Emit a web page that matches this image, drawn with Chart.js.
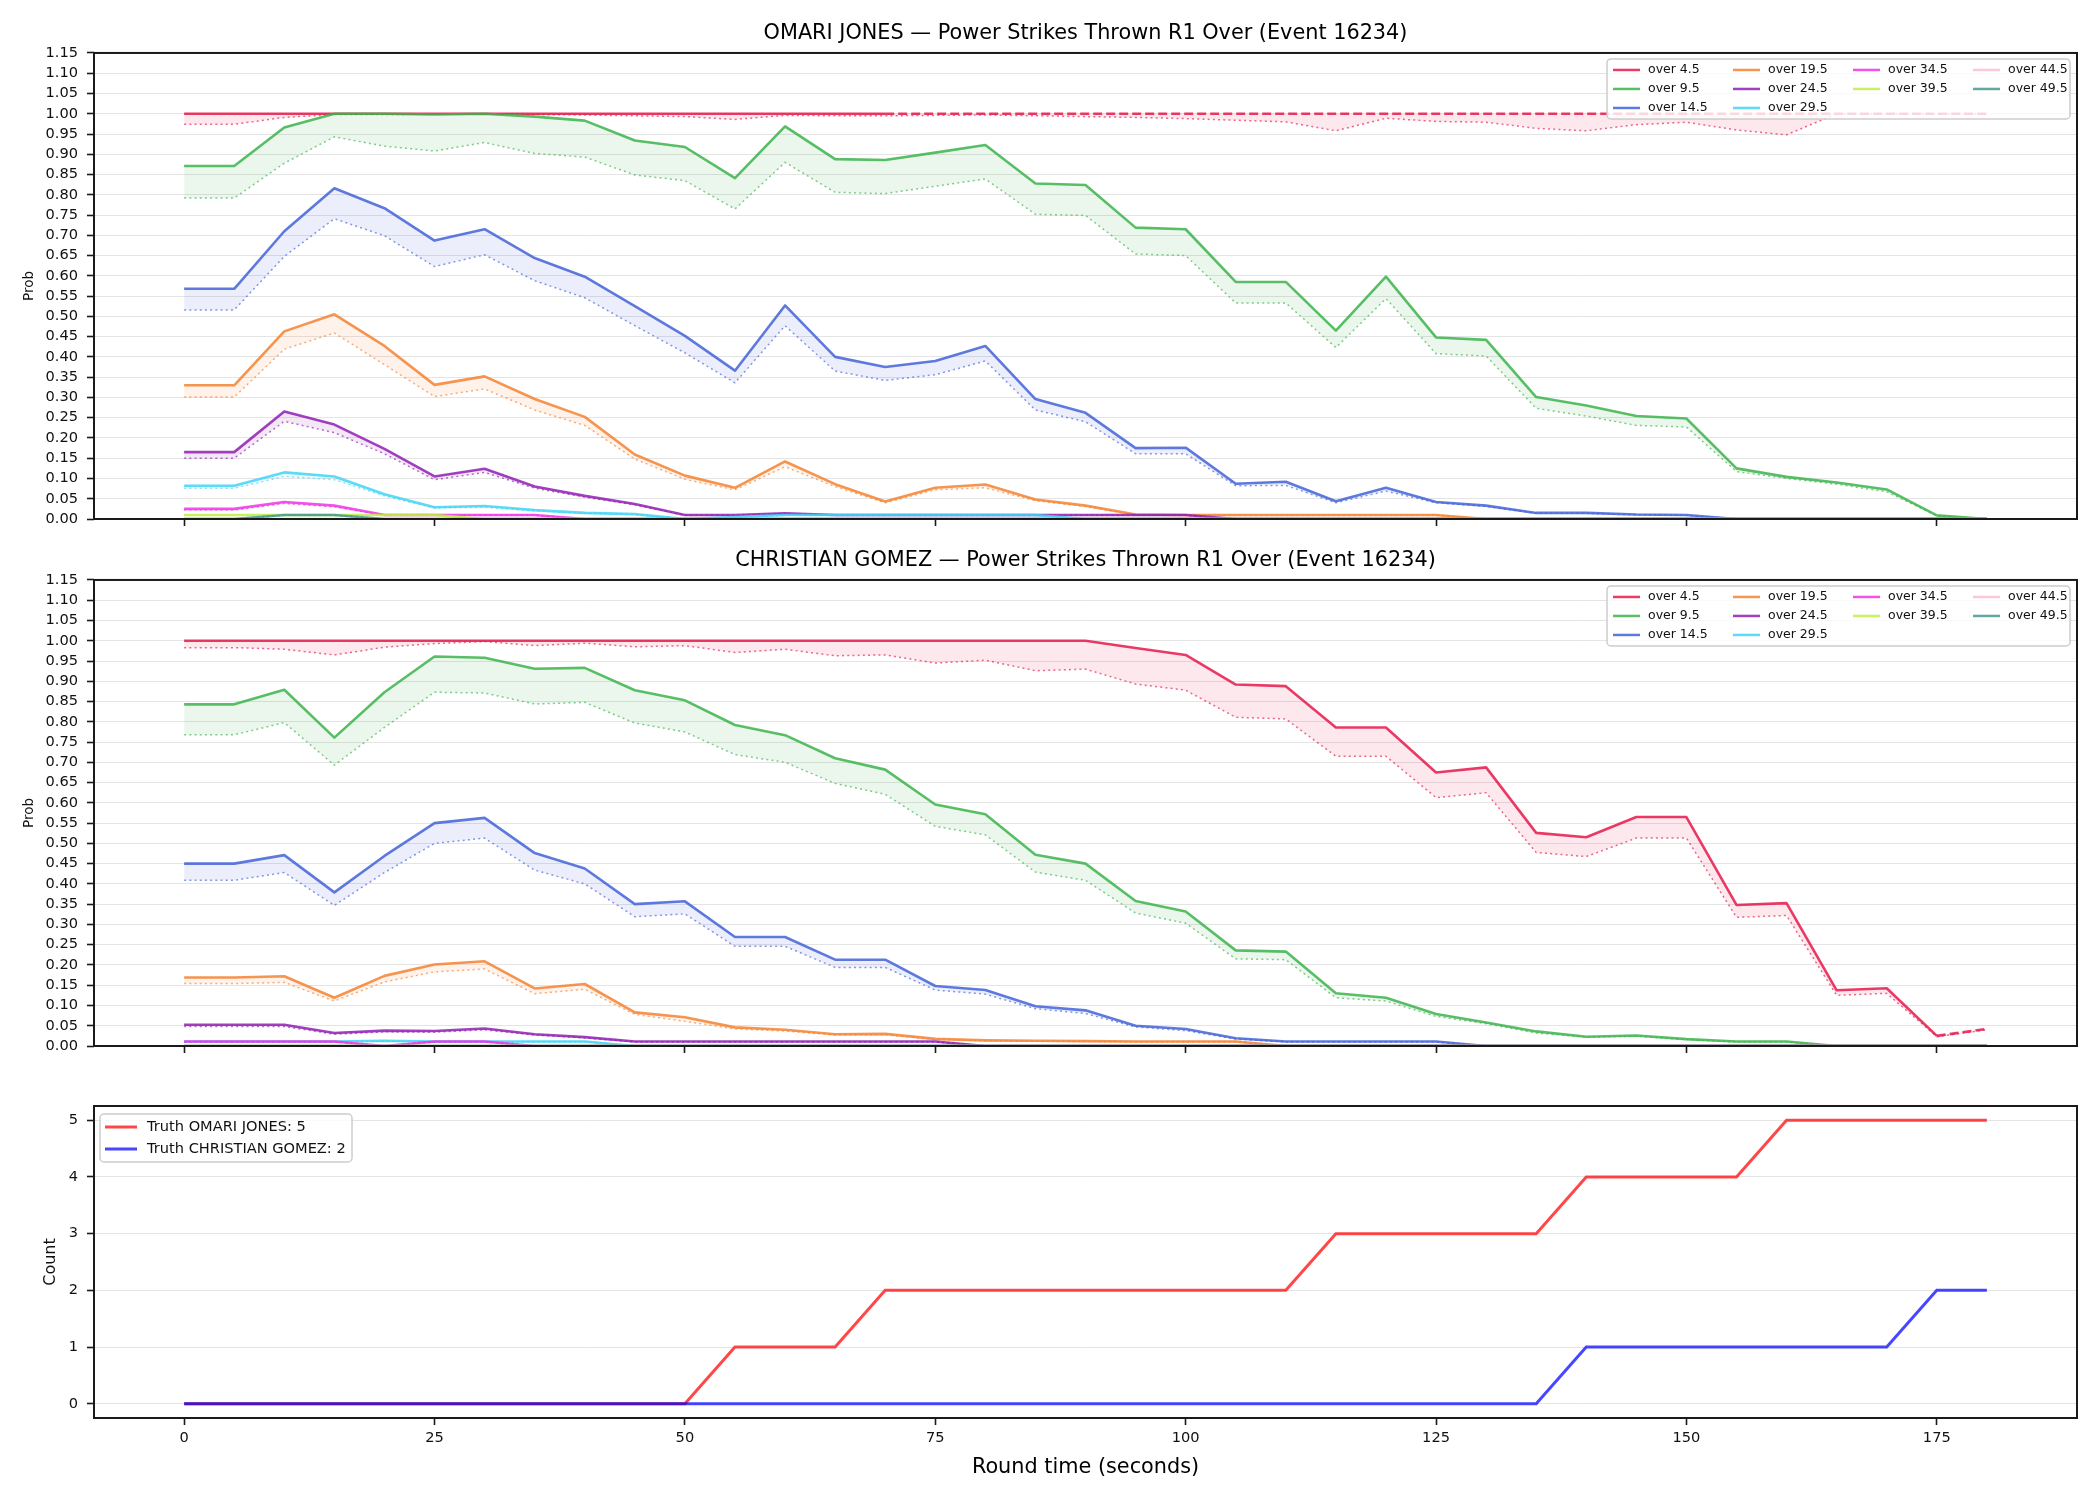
<!DOCTYPE html>
<html><head><meta charset="utf-8">
<script src="https://cdn.jsdelivr.net/npm/chart.js@4.4.1/dist/chart.umd.min.js"></script>
<style>
html,body{margin:0;padding:0;background:#fff;width:2100px;height:1500px;overflow:hidden;}
canvas{position:absolute;left:0;}
</style></head><body>
<canvas id="c1" width="2100" height="541" style="top:0px"></canvas>
<canvas id="c2" width="2100" height="541" style="top:527px"></canvas>
<canvas id="c3" width="2100" height="440" style="top:1060px"></canvas>
<script>
// ---------------- DATA ----------------
const TIMES = [0,5,10,15,20,25,30,35,40,45,50,55,60,65,70,75,80,85,90,95,100,105,110,115,120,125,130,135,140,145,150,155,160,165,170,175,180];
const LINE_LABELS = ['over 4.5','over 9.5','over 14.5','over 19.5','over 24.5','over 29.5','over 34.5','over 39.5','over 44.5','over 49.5'];
const PROB_TICKS = [0,0.05,0.10,0.15,0.20,0.25,0.30,0.35,0.40,0.45,0.50,0.55,0.60,0.65,0.70,0.75,0.80,0.85,0.90,0.95,1.00,1.05,1.10,1.15];
const COUNT_TICKS = [0,1,2,3,4,5];
const TIME_TICKS = [0,25,50,75,100,125,150,175];
const ALL_ZERO = [0,0,0,0,0,0,0,0,0,0,0,0,0,0,0,0,0,0,0,0,0,0,0,0,0,0,0,0,0,0,0,0,0,0,0,0,0];

const TITLE_OMARI = 'OMARI JONES — Power Strikes Thrown R1 Over (Event 16234)';
const TITLE_CHRISTIAN = 'CHRISTIAN GOMEZ — Power Strikes Thrown R1 Over (Event 16234)';

// OMARI JONES: model probability (solid) and lower band (dotted)
const OJ_HI_45 = [1,1,1,1,1,1,1,1,1,1,1,1,1,1,1,1,1,1,1,1,1,1,1,1,1,1,1,1,1,1,1,1,1,1,1,1,1];
const OJ_LO_45 = [0.974,0.974,0.991,0.998,0.998,0.999,0.999,0.998,0.997,0.995,0.993,0.986,0.996,0.995,0.995,0.996,0.997,0.995,0.993,0.991,0.988,0.984,0.980,0.958,0.989,0.981,0.979,0.964,0.958,0.973,0.979,0.960,0.948,1.0,1.0,1.0,1.0];
const OJ_HI_95 = [0.871,0.871,0.966,1.0,1.0,0.998,1.0,0.993,0.983,0.934,0.918,0.841,0.969,0.888,0.886,0.904,0.923,0.828,0.824,0.719,0.715,0.585,0.585,0.465,0.598,0.448,0.442,0.301,0.280,0.254,0.248,0.125,0.104,0.090,0.073,0.009,0.0];
const OJ_LO_95 = [0.792,0.792,0.878,0.943,0.920,0.908,0.929,0.902,0.893,0.849,0.835,0.765,0.880,0.806,0.803,0.821,0.839,0.752,0.749,0.654,0.650,0.533,0.533,0.423,0.544,0.408,0.402,0.273,0.254,0.231,0.227,0.117,0.100,0.086,0.067,0.008,0.0];
const OJ_HI_145 = [0.568,0.568,0.710,0.816,0.767,0.687,0.715,0.644,0.598,0.525,0.452,0.366,0.527,0.400,0.375,0.390,0.427,0.296,0.262,0.175,0.176,0.087,0.092,0.044,0.077,0.042,0.033,0.015,0.015,0.011,0.010,0,0,0,0,0,0];
const OJ_LO_145 = [0.516,0.516,0.648,0.741,0.699,0.623,0.652,0.588,0.546,0.477,0.410,0.336,0.477,0.365,0.342,0.356,0.390,0.269,0.240,0.161,0.161,0.082,0.083,0.040,0.069,0.040,0.031,0.014,0.014,0.010,0.009,0,0,0,0,0,0];
const OJ_HI_195 = [0.330,0.330,0.463,0.505,0.427,0.331,0.352,0.296,0.252,0.159,0.107,0.077,0.142,0.086,0.043,0.077,0.085,0.048,0.033,0.011,0.010,0.010,0.010,0.010,0.010,0.010,0,0,0,0,0,0,0,0,0,0,0];
const OJ_LO_195 = [0.301,0.301,0.419,0.459,0.381,0.302,0.321,0.269,0.231,0.148,0.098,0.072,0.129,0.080,0.040,0.072,0.077,0.045,0.031,0.010,0.009,0.009,0.009,0.009,0.009,0.009,0,0,0,0,0,0,0,0,0,0,0];
const OJ_HI_245 = [0.165,0.165,0.265,0.233,0.173,0.105,0.124,0.080,0.057,0.037,0.010,0.010,0.014,0.010,0.010,0.010,0.010,0.010,0.010,0.010,0.010,0,0,0,0,0,0,0,0,0,0,0,0,0,0,0,0];
const OJ_LO_245 = [0.150,0.150,0.241,0.213,0.161,0.097,0.115,0.076,0.054,0.035,0.009,0.009,0.013,0.009,0.009,0.009,0.009,0.009,0.009,0.009,0.009,0,0,0,0,0,0,0,0,0,0,0,0,0,0,0,0];
const OJ_HI_295 = [0.082,0.082,0.115,0.105,0.061,0.029,0.032,0.022,0.015,0.012,0,0.005,0.010,0.010,0.010,0.010,0.010,0.010,0,0,0,0,0,0,0,0,0,0,0,0,0,0,0,0,0,0,0];
const OJ_LO_295 = [0.076,0.076,0.105,0.097,0.057,0.027,0.029,0.020,0.014,0.011,0,0.004,0.009,0.009,0.009,0.009,0.009,0.009,0,0,0,0,0,0,0,0,0,0,0,0,0,0,0,0,0,0,0];
const OJ_HI_345 = [0.025,0.025,0.042,0.033,0.010,0.010,0.010,0.010,0,0,0,0,0,0,0,0,0,0,0,0,0,0,0,0,0,0,0,0,0,0,0,0,0,0,0,0,0];
const OJ_LO_345 = [0.022,0.022,0.038,0.030,0.009,0.009,0.009,0.009,0,0,0,0,0,0,0,0,0,0,0,0,0,0,0,0,0,0,0,0,0,0,0,0,0,0,0,0,0];
const OJ_HI_395 = [0.010,0.010,0.010,0.010,0.010,0.010,0,0,0,0,0,0,0,0,0,0,0,0,0,0,0,0,0,0,0,0,0,0,0,0,0,0,0,0,0,0,0];
const OJ_LO_395 = [0.009,0.009,0.009,0.009,0.009,0.009,0,0,0,0,0,0,0,0,0,0,0,0,0,0,0,0,0,0,0,0,0,0,0,0,0,0,0,0,0,0,0];
const OJ_HI_445 = ALL_ZERO;
const OJ_LO_445 = ALL_ZERO;
const OJ_HI_495 = [0,0,0.010,0.010,0,0,0,0,0,0,0,0,0,0,0,0,0,0,0,0,0,0,0,0,0,0,0,0,0,0,0,0,0,0,0,0,0];
const OJ_LO_495 = [0,0,0.009,0.009,0,0,0,0,0,0,0,0,0,0,0,0,0,0,0,0,0,0,0,0,0,0,0,0,0,0,0,0,0,0,0,0,0];

// CHRISTIAN GOMEZ
const CG_HI_45 = [1,1,1,1,1,1,1,1,1,1,1,1,1,1,1,1,1,1,1,0.982,0.965,0.892,0.888,0.786,0.786,0.675,0.6875,0.526,0.515,0.565,0.565,0.348,0.3525,0.1375,0.1425,0.025,0.042];
const CG_LO_45 = [0.983,0.983,0.979,0.965,0.984,0.993,0.998,0.988,0.994,0.985,0.988,0.971,0.979,0.963,0.965,0.945,0.952,0.926,0.930,0.893,0.878,0.811,0.807,0.715,0.715,0.613,0.625,0.4775,0.4675,0.513,0.513,0.3175,0.322,0.125,0.130,0.023,0.040];
const CG_HI_95 = [0.843,0.843,0.879,0.761,0.873,0.961,0.958,0.931,0.933,0.878,0.853,0.792,0.767,0.710,0.682,0.596,0.572,0.472,0.450,0.358,0.332,0.236,0.233,0.130,0.119,0.079,0.058,0.036,0.023,0.026,0.017,0.011,0.011,0,0,0,0];
const CG_LO_95 = [0.768,0.768,0.798,0.693,0.786,0.873,0.871,0.844,0.848,0.797,0.775,0.719,0.700,0.648,0.621,0.542,0.521,0.429,0.409,0.328,0.303,0.215,0.213,0.119,0.111,0.073,0.055,0.032,0.022,0.024,0.016,0.010,0.010,0,0,0,0];
const CG_HI_145 = [0.450,0.450,0.471,0.379,0.469,0.550,0.563,0.476,0.438,0.350,0.357,0.269,0.269,0.213,0.213,0.148,0.138,0.098,0.088,0.050,0.042,0.019,0.011,0.011,0.011,0.011,0,0,0,0,0,0,0,0,0,0,0];
const CG_LO_145 = [0.409,0.409,0.428,0.347,0.428,0.500,0.513,0.434,0.400,0.319,0.326,0.246,0.246,0.194,0.194,0.138,0.128,0.092,0.080,0.047,0.038,0.017,0.010,0.010,0.010,0.010,0,0,0,0,0,0,0,0,0,0,0];
const CG_HI_195 = [0.169,0.169,0.172,0.119,0.173,0.201,0.209,0.142,0.153,0.083,0.071,0.046,0.040,0.029,0.030,0.0175,0.014,0.013,0.012,0.011,0.011,0.011,0,0,0,0,0,0,0,0,0,0,0,0,0,0,0];
const CG_LO_195 = [0.154,0.154,0.157,0.111,0.158,0.183,0.190,0.129,0.140,0.078,0.061,0.042,0.037,0.027,0.028,0.016,0.013,0.012,0.011,0.010,0.010,0.010,0,0,0,0,0,0,0,0,0,0,0,0,0,0,0];
const CG_HI_245 = [0.0525,0.0525,0.0525,0.032,0.038,0.037,0.043,0.029,0.022,0.011,0.011,0.011,0.011,0.011,0.011,0.011,0,0,0,0,0,0,0,0,0,0,0,0,0,0,0,0,0,0,0,0,0];
const CG_LO_245 = [0.048,0.048,0.048,0.029,0.035,0.034,0.040,0.027,0.020,0.010,0.010,0.010,0.010,0.010,0.010,0.010,0,0,0,0,0,0,0,0,0,0,0,0,0,0,0,0,0,0,0,0,0];
const CG_HI_295 = [0.011,0.011,0.011,0.011,0.013,0.011,0.011,0.011,0.011,0,0,0,0,0,0,0,0,0,0,0,0,0,0,0,0,0,0,0,0,0,0,0,0,0,0,0,0];
const CG_LO_295 = [0.010,0.010,0.010,0.010,0.012,0.010,0.010,0.010,0.010,0,0,0,0,0,0,0,0,0,0,0,0,0,0,0,0,0,0,0,0,0,0,0,0,0,0,0,0];
const CG_HI_345 = [0.011,0.011,0.011,0.011,0,0.011,0.011,0,0,0,0,0,0,0,0,0,0,0,0,0,0,0,0,0,0,0,0,0,0,0,0,0,0,0,0,0,0];
const CG_LO_345 = [0.010,0.010,0.010,0.010,0,0.010,0.010,0,0,0,0,0,0,0,0,0,0,0,0,0,0,0,0,0,0,0,0,0,0,0,0,0,0,0,0,0,0];
const CG_HI_395 = ALL_ZERO, CG_LO_395 = ALL_ZERO;
const CG_HI_445 = ALL_ZERO, CG_LO_445 = ALL_ZERO;
const CG_HI_495 = ALL_ZERO, CG_LO_495 = ALL_ZERO;

// Truth counts
const TRUTH_OMARI = [0,0,0,0,0,0,0,0,0,0,0,1,1,1,2,2,2,2,2,2,2,2,2,3,3,3,3,3,4,4,4,4,5,5,5,5,5];
const TRUTH_CHRISTIAN = [0,0,0,0,0,0,0,0,0,0,0,0,0,0,0,0,0,0,0,0,0,0,0,0,0,0,0,0,1,1,1,1,1,1,1,2,2];
const TRUTH_LABELS = ['Truth OMARI JONES: 5','Truth CHRISTIAN GOMEZ: 2'];

// time from which the over-4.5 line is drawn dashed
const DASH_FROM_OMARI = 70;
const DASH_FROM_CHRISTIAN = 175;

// ---------------- STYLE ----------------
const PALETTE = [[230,25,75],[60,180,75],[67,99,216],[245,130,49],[145,30,180],[66,212,244],[240,50,230],[191,239,69],[250,190,212],[70,153,144]];
const rgba = (c,a) => `rgba(${c[0]},${c[1]},${c[2]},${a})`;
const FONT = "'DejaVu Sans'";
Chart.defaults.font.family = FONT;
Chart.defaults.color = '#111';

function buildProbDatasets(his, los, dashFrom) {
  const ds = [];
  his.forEach((hi, k) => {
    const col = PALETTE[k];
    ds.push({
      label: LINE_LABELS[k],
      data: TIMES.map((t, i) => ({x: t, y: hi[i]})),
      borderColor: rgba(col, 0.85), borderWidth: 2.6, pointRadius: 0, pointHitRadius: 0,
      fill: false, borderJoinStyle: 'round',
      segment: k === 0 ? { borderDash: c => (c.p0.parsed.x >= dashFrom ? [9, 4] : undefined) } : undefined
    });
    ds.push({
      label: LINE_LABELS[k] + ' low',
      data: TIMES.map((t, i) => ({x: t, y: los[k][i]})),
      borderColor: rgba(col, 0.65), borderWidth: 1.5, borderDash: [2, 3.2], pointRadius: 0, pointHitRadius: 0,
      fill: '-1', backgroundColor: rgba(col, 0.10)
    });
  });
  ds.forEach((d, i) => d.order = -i);
  return ds;
}

function framePlugin(id) {
  return { id, afterDraw(chart) {
    const {ctx, chartArea: a} = chart;
    ctx.save(); ctx.strokeStyle = '#1a1a1a'; ctx.lineWidth = 2; ctx.setLineDash([]);
    ctx.strokeRect(a.left, a.top, a.right - a.left, a.bottom - a.top); ctx.restore();
  }};
}

function legendPlugin(id, cfg) {
  return { id, afterDatasetsDraw(chart) {
    const {ctx, chartArea: a} = chart;
    const bl = cfg.alignRight ? a.right - cfg.marginX - cfg.boxW : a.left + cfg.marginX;
    const bt = a.top + cfg.marginY;
    ctx.save();
    ctx.beginPath();
    if (ctx.roundRect) ctx.roundRect(bl, bt, cfg.boxW, cfg.boxH, 4); else ctx.rect(bl, bt, cfg.boxW, cfg.boxH);
    ctx.fillStyle = 'rgba(255,255,255,0.8)'; ctx.fill();
    ctx.strokeStyle = 'rgba(200,200,200,0.9)'; ctx.lineWidth = 1.5; ctx.stroke();
    const n = cfg.labels.length, cols = cfg.cols;
    const base = Math.floor(n / cols), extra = n % cols;
    ctx.font = cfg.fontSize + 'px ' + FONT; ctx.textBaseline = 'middle'; ctx.textAlign = 'left';
    let idx = 0;
    for (let c = 0; c < cols; c++) {
      const cnt = base + (c < extra ? 1 : 0);
      for (let r = 0; r < cnt; r++) {
        const x = bl + cfg.padX + c * cfg.colW;
        const y = bt + cfg.firstRowY + r * cfg.rowH;
        ctx.strokeStyle = cfg.colors[idx]; ctx.lineWidth = cfg.handleW; ctx.setLineDash([]);
        ctx.beginPath(); ctx.moveTo(x, y); ctx.lineTo(x + cfg.handleLen, y); ctx.stroke();
        ctx.fillStyle = '#111'; ctx.fillText(cfg.labels[idx], x + cfg.textGap, y);
        idx++;
      }
    }
    ctx.restore();
  }};
}

function probChart(canvasId, title, his, los, dashFrom) {
  const legendCfg = {alignRight: true, marginX: 7, marginY: 6, boxW: 463, boxH: 60, padX: 6, colW: 120,
    firstRowY: 11, rowH: 19, handleLen: 27, textGap: 35, fontSize: 12.5, handleW: 2.5, cols: 4,
    labels: LINE_LABELS, colors: PALETTE.map(c => rgba(c, 0.85))};
  return new Chart(document.getElementById(canvasId), {
    type: 'line',
    data: { datasets: buildProbDatasets(his, los, dashFrom) },
    options: {
      responsive: false, animation: false, devicePixelRatio: 1,
      layout: { padding: {left: 0, right: 23, top: 0, bottom: 0} },
      plugins: {
        legend: {display: false}, tooltip: {enabled: false},
        title: { display: true, text: title, fullSize: false, color: '#000',
          font: {size: 20.8, weight: 'normal', family: FONT}, padding: {top: 21.5, bottom: 6.5} }
      },
      scales: {
        x: { type: 'linear', min: -9, max: 189,
          afterBuildTicks: s => { s.ticks = TIME_TICKS.map(v => ({value: v})); },
          afterFit: s => { s.height = 22; },
          ticks: {display: false},
          grid: {display: true, drawOnChartArea: false, drawTicks: true, tickLength: 7, tickColor: '#1a1a1a', tickWidth: 1.6},
          border: {display: false} },
        y: { type: 'linear', min: 0, max: 1.15,
          afterBuildTicks: s => { s.ticks = PROB_TICKS.map(v => ({value: v})); },
          afterFit: s => { s.width = 94; },
          ticks: {autoSkip: false, padding: 9, color: '#111', font: {size: 14.6, family: FONT}, callback: v => Number(v).toFixed(2)},
          grid: {color: '#e4e4e4', lineWidth: 1, drawTicks: true, tickLength: 7, tickColor: '#1a1a1a', tickWidth: 1.6},
          border: {display: false},
          title: {display: true, text: 'Prob', color: '#111', font: {size: 13.5, family: FONT}, padding: {top: 20.9, bottom: 0}} }
      }
    },
    plugins: [legendPlugin('lg_' + canvasId, legendCfg), framePlugin('fr_' + canvasId)]
  });
}

probChart('c1', TITLE_OMARI,
  [OJ_HI_45, OJ_HI_95, OJ_HI_145, OJ_HI_195, OJ_HI_245, OJ_HI_295, OJ_HI_345, OJ_HI_395, OJ_HI_445, OJ_HI_495],
  [OJ_LO_45, OJ_LO_95, OJ_LO_145, OJ_LO_195, OJ_LO_245, OJ_LO_295, OJ_LO_345, OJ_LO_395, OJ_LO_445, OJ_LO_495],
  DASH_FROM_OMARI);
probChart('c2', TITLE_CHRISTIAN,
  [CG_HI_45, CG_HI_95, CG_HI_145, CG_HI_195, CG_HI_245, CG_HI_295, CG_HI_345, CG_HI_395, CG_HI_445, CG_HI_495],
  [CG_LO_45, CG_LO_95, CG_LO_145, CG_LO_195, CG_LO_245, CG_LO_295, CG_LO_345, CG_LO_395, CG_LO_445, CG_LO_495],
  DASH_FROM_CHRISTIAN);

// bottom truth panel
const TRUTH_COLORS = ['rgba(255,0,0,0.72)', 'rgba(0,0,255,0.72)'];
new Chart(document.getElementById('c3'), {
  type: 'line',
  data: { datasets: [
    { label: TRUTH_LABELS[0], data: TIMES.map((t, i) => ({x: t, y: TRUTH_OMARI[i]})), borderColor: TRUTH_COLORS[0], borderWidth: 3, pointRadius: 0, fill: false, order: 0 },
    { label: TRUTH_LABELS[1], data: TIMES.map((t, i) => ({x: t, y: TRUTH_CHRISTIAN[i]})), borderColor: TRUTH_COLORS[1], borderWidth: 3, pointRadius: 0, fill: false, order: -1 }
  ]},
  options: {
    responsive: false, animation: false, devicePixelRatio: 1,
    layout: { padding: {left: 0, right: 23, top: 46, bottom: 0} },
    plugins: { legend: {display: false}, tooltip: {enabled: false}, title: {display: false} },
    scales: {
      x: { type: 'linear', min: -9, max: 189,
        afterBuildTicks: s => { s.ticks = TIME_TICKS.map(v => ({value: v})); },
        afterFit: s => { s.height = 82; },
        ticks: {autoSkip: false, maxRotation: 0, padding: 4.5, color: '#111', font: {size: 14.6, family: FONT}, callback: v => String(v)},
        grid: {display: true, drawOnChartArea: false, drawTicks: true, tickLength: 7, tickColor: '#1a1a1a', tickWidth: 1.6},
        border: {display: false},
        title: {display: true, text: 'Round time (seconds)', color: '#000', font: {size: 20.8, family: FONT}, padding: {top: 4, bottom: 19.5}} },
      y: { type: 'linear', min: -0.25, max: 5.25,
        afterBuildTicks: s => { s.ticks = COUNT_TICKS.map(v => ({value: v})); },
        afterFit: s => { s.width = 94; },
        ticks: {autoSkip: false, padding: 9, color: '#111', font: {size: 14.6, family: FONT}, callback: v => String(v)},
        grid: {color: '#e4e4e4', lineWidth: 1, drawTicks: true, tickLength: 7, tickColor: '#1a1a1a', tickWidth: 1.6},
        border: {display: false},
        title: {display: true, text: 'Count', color: '#111', font: {size: 16, family: FONT}, padding: {top: 41.4, bottom: 0}} }
    }
  },
  plugins: [legendPlugin('lg_c3', {alignRight: false, marginX: 6, marginY: 8, boxW: 252, boxH: 48, padX: 5, colW: 0,
    firstRowY: 13, rowH: 22, handleLen: 32, textGap: 42, fontSize: 14.6, handleW: 3, cols: 1,
    labels: TRUTH_LABELS, colors: TRUTH_COLORS}), framePlugin('fr_c3')]
});
</script>
</body></html>
